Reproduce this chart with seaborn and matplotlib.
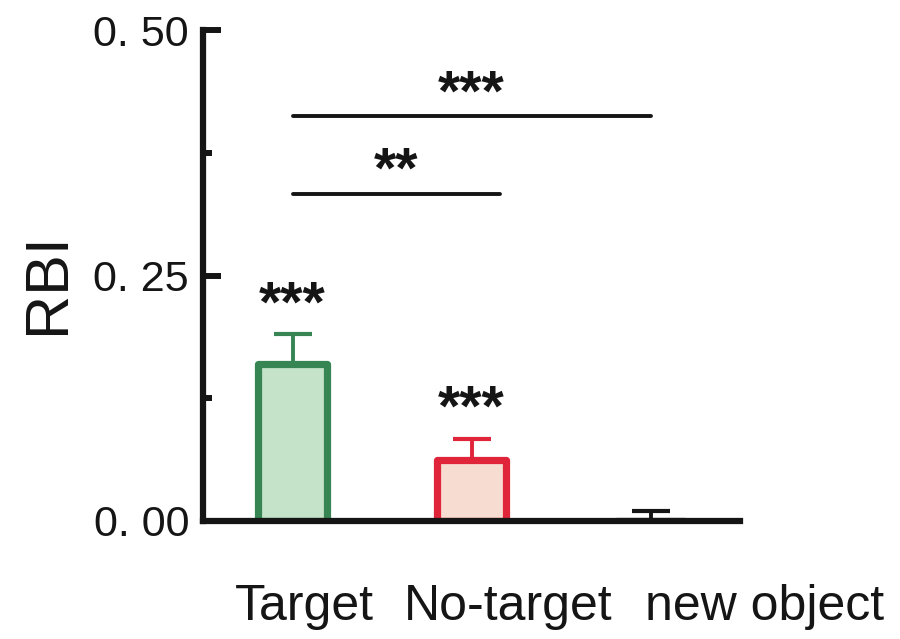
import numpy as np
import pandas as pd
import matplotlib
matplotlib.use("Agg")
import matplotlib.pyplot as plt
import matplotlib.transforms as mtransforms
import seaborn as sns

# data
categories = ['Target', 'No-target', 'new object']
means = [0.160, 0.062, 0.0]
sems = [0.030, 0.022, 0.010]
fill_colors = ['#C5E3C8', '#F7DCD2', '#FFFFFF']
edge_colors = ['#368552', '#E0253A', '#151515']
bar_stars = ['***', '***', '']
# comparisons: (from, to, height, label)
brackets = [(0, 1.16, 0.333, '**'), (0, 2.0, 0.412, '***')]
ytick_values = [0.0, 0.25, 0.50]
ytick_labels = ['0. 00', '0. 25', '0. 50']
yminor_values = [0.125, 0.375]

sns.set_style('white')
plt.rcParams['font.family'] = ['Liberation Sans', 'DejaVu Sans']
plt.rcParams['text.color'] = '#151515'
plt.rcParams['axes.labelcolor'] = '#151515'
plt.rcParams['ytick.labelcolor'] = '#151515'

df = pd.DataFrame({'cond': categories, 'rbi': means})

fig = plt.figure(figsize=(9, 6.39), dpi=100)
ax = fig.add_axes([203/900, 118/639, 537/900, 491/639])

sns.barplot(data=df, x='cond', y='rbi', hue='cond', palette=fill_colors,
            saturation=1, legend=False, width=0.38, errorbar=None, ax=ax, zorder=2)
for patch, ec in zip(ax.patches, edge_colors):
    patch.set_edgecolor(ec)
    patch.set_linewidth(5.2)
    patch.set_joinstyle('round')

for i, (m, e, ec) in enumerate(zip(means, sems, edge_colors)):
    ax.errorbar(i, m, yerr=[[0], [e]], fmt='none', ecolor=ec,
                elinewidth=2.8, capsize=14, capthick=3, zorder=1)

# stars above the bars
for i, (m, e, s) in enumerate(zip(means, sems, bar_stars)):
    if s:
        ax.text(i, m + e + 0.001, s, ha='center', va='bottom',
                fontsize=41, fontweight='bold')

# comparison lines
for x0, x1, h, s in brackets:
    ax.plot([x0, x1], [h, h], color='#151515', lw=2.8, solid_capstyle='round')
    ax.text((x0 + x1) / 2, h - 0.006, s, ha='center', va='bottom',
            fontsize=41, fontweight='bold')

ax.set_xlim(-0.5, 2.5)
ax.set_ylim(0, 0.5)
ax.set_yticks(ytick_values)
ax.set_yticklabels(ytick_labels)
ax.set_yticks(yminor_values, minor=True)
ax.tick_params(axis='y', which='major', direction='in', length=13, width=4.3,
               labelsize=31, pad=10, color='#151515', left=True)
ax.tick_params(axis='y', which='minor', direction='in', length=6.5, width=4.3,
               color='#151515', left=True)
ax.set_xticks([])
ax.set_xlabel('')
ax.set_ylabel('RBI', fontsize=44)
ax.yaxis.set_label_coords(-0.235, 0.485)

for side in ['top', 'right']:
    ax.spines[side].set_visible(False)
for side in ['left', 'bottom']:
    ax.spines[side].set_linewidth(4.5)
    ax.spines[side].set_color('#151515')
    ax.spines[side].set_zorder(5)

# category labels sit a bit right of the bars
label_x = [0.066, 1.207, 2.638]
trans = mtransforms.blended_transform_factory(ax.transData, ax.transAxes)
for x, lab in zip(label_x, categories):
    ax.text(x, -0.2016, lab, transform=trans, ha='center', va='baseline',
            fontsize=36, clip_on=False)

fig.savefig('out.png', dpi=100)
